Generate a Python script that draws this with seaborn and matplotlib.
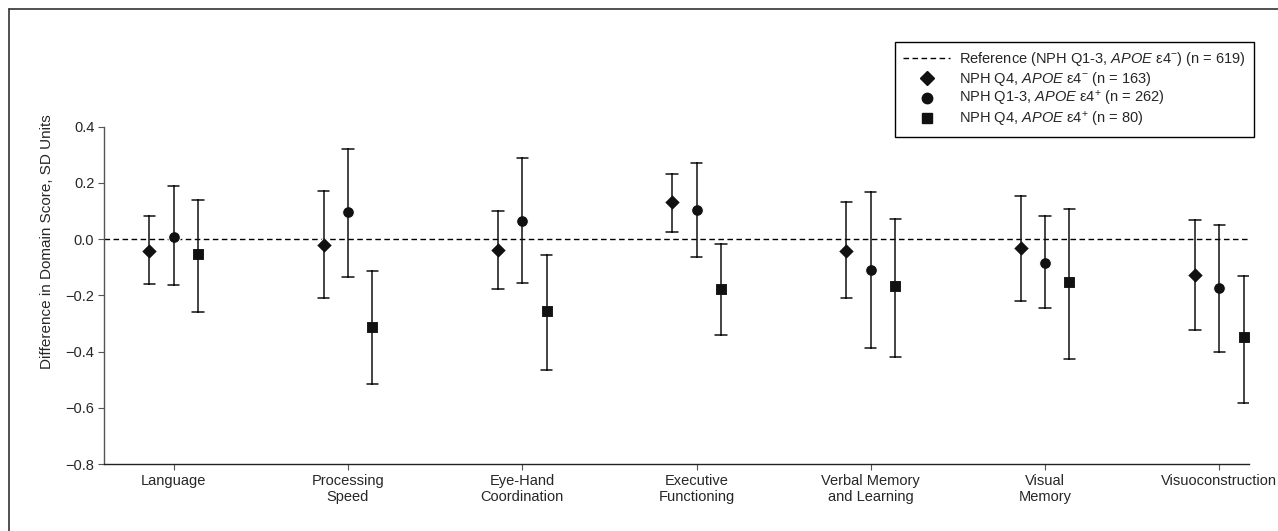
import numpy as np
import pandas as pd
import matplotlib
matplotlib.use("Agg")
import matplotlib.pyplot as plt
from matplotlib.lines import Line2D
import seaborn as sns

# domain names (tick labels) and the three comparison groups
domains = ["Language", "Processing\nSpeed", "Eye-Hand\nCoordination", "Executive\nFunctioning",
           "Verbal Memory\nand Learning", "Visual\nMemory", "Visuoconstruction"]
groups = ["q4_neg", "q13_pos", "q4_pos"]

# point estimates and 95% CI
est_q4_neg = [-0.042, -0.020, -0.040, 0.131, -0.042, -0.032, -0.129]
lo_q4_neg = [-0.160, -0.210, -0.178, 0.026, -0.208, -0.219, -0.323]
hi_q4_neg = [0.081, 0.170, 0.100, 0.231, 0.131, 0.152, 0.069]

est_q13_pos = [0.009, 0.098, 0.066, 0.104, -0.108, -0.083, -0.175]
lo_q13_pos = [-0.162, -0.133, -0.155, -0.062, -0.387, -0.245, -0.401]
hi_q13_pos = [0.188, 0.322, 0.290, 0.270, 0.169, 0.081, 0.051]

est_q4_pos = [-0.053, -0.312, -0.256, -0.176, -0.166, -0.151, -0.349]
lo_q4_pos = [-0.260, -0.516, -0.466, -0.340, -0.419, -0.425, -0.582]
hi_q4_pos = [0.141, -0.114, -0.057, -0.018, 0.073, 0.108, -0.131]

legend_labels = [
    r"Reference (NPH Q1-3, $\mathit{APOE}$ ε4$^{-}$) (n = 619)",
    r"NPH Q4, $\mathit{APOE}$ ε4$^{-}$ (n = 163)",
    r"NPH Q1-3, $\mathit{APOE}$ ε4$^{+}$ (n = 262)",
    r"NPH Q4, $\mathit{APOE}$ ε4$^{+}$ (n = 80)",
]

# long form: lower / estimate / upper per cell -> median = estimate, full range = CI
rows = []
series = {"q4_neg": (lo_q4_neg, est_q4_neg, hi_q4_neg),
          "q13_pos": (lo_q13_pos, est_q13_pos, hi_q13_pos),
          "q4_pos": (lo_q4_pos, est_q4_pos, hi_q4_pos)}
for g in groups:
    lo, est, hi = series[g]
    for i, d in enumerate(domains):
        for v in (lo[i], est[i], hi[i]):
            rows.append({"domain": d, "group": g, "value": v})
df = pd.DataFrame(rows)

sns.set_theme(style="white")
plt.rcParams["font.family"] = ["Liberation Sans", "DejaVu Sans"]
plt.rcParams["mathtext.fontset"] = "custom"
plt.rcParams["mathtext.rm"] = "Liberation Sans"
plt.rcParams["mathtext.it"] = "Liberation Sans:italic"

fig = plt.figure(figsize=(12.78, 5.31), dpi=100)
ax = fig.add_axes([104 / 1278, 1 - 464 / 531, (1249 - 104) / 1278, (464 - 20) / 531])

ax.axhline(0, color="black", lw=1, ls=(0, (4, 2.5)), zorder=1)

sns.pointplot(data=df, x="domain", y="value", hue="group", order=domains, hue_order=groups,
              estimator="median", errorbar=("pi", 100), palette=["#111111"] * 3,
              markers=["D", "o", "s"], linestyles="none", dodge=0.28, capsize=0.065,
              err_kws={"linewidth": 1.1}, markersize=8.5, markeredgecolor="white",
              markeredgewidth=0.8, legend=False, ax=ax)

ax.set_xlim(-0.40, 6.17)
ax.set_ylim(-0.8, 0.78)
ax.set_yticks(np.arange(-0.8, 0.41, 0.2))
ax.set_yticklabels(["−0.8", "−0.6", "−0.4", "−0.2", "0.0", "0.2", "0.4"])
ax.set_xlabel("")
ax.set_ylabel("Difference in Domain Score, SD Units", fontsize=11, labelpad=8)

for s in ["top", "right"]:
    ax.spines[s].set_visible(False)
ax.spines["left"].set_bounds(-0.8, 0.4)
ax.spines["left"].set_color("#555555")
ax.spines["bottom"].set_color("#222222")
ax.spines["left"].set_linewidth(1)
ax.spines["bottom"].set_linewidth(1)
ax.tick_params(axis="both", which="both", direction="out", length=4, width=0.8,
               color="#555555", labelsize=10.5, pad=3, left=True, bottom=True)

handles = [
    Line2D([], [], color="black", lw=1, ls=(0, (4, 2.5))),
    Line2D([], [], color="#111111", marker="D", ls="none", markersize=7.5),
    Line2D([], [], color="#111111", marker="o", ls="none", markersize=7.5),
    Line2D([], [], color="#111111", marker="s", ls="none", markersize=7),
]
leg = ax.legend(handles, legend_labels, loc="upper right", bbox_to_anchor=(1.004, 0.950),
                frameon=True, fancybox=False, edgecolor="black", framealpha=1,
                fontsize=10.5, handlelength=3.2, labelspacing=0.1, borderpad=0.55,
                handletextpad=0.6, borderaxespad=0)
leg.get_frame().set_linewidth(1)

# outer frame of the figure panel
fig.add_artist(Line2D([9 / 1278, 9 / 1278], [0, 1 - 9 / 531], color="#333333", lw=1.2,
                      transform=fig.transFigure))
fig.add_artist(Line2D([9 / 1278, 1], [1 - 9 / 531, 1 - 9 / 531], color="#333333", lw=1.2,
                      transform=fig.transFigure))

fig.savefig("out.png", dpi=100)
